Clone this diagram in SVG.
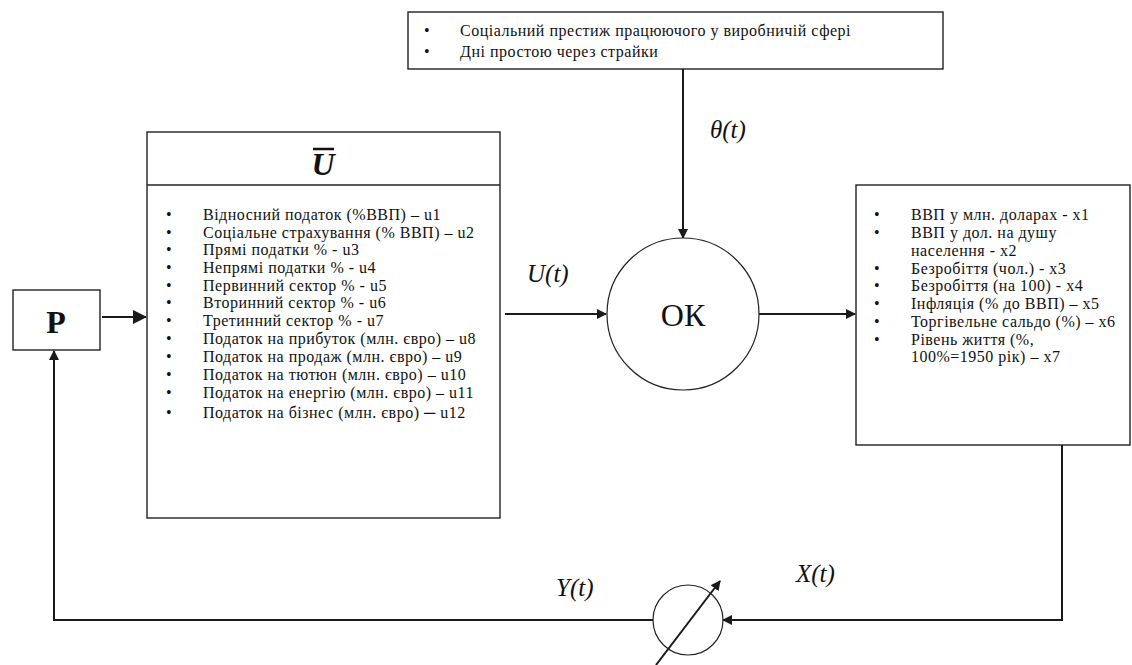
<svg xmlns="http://www.w3.org/2000/svg" width="1132" height="665" viewBox="0 0 1132 665">
<defs>
<style>
.box{fill:#fff;stroke:#222;stroke-width:1.4}
.ln{fill:none;stroke:#1a1a1a;stroke-width:2}
.t{font-family:"Liberation Serif","Times New Roman",serif;font-size:16px;letter-spacing:0.5px;fill:#111}
.m{font-family:"Liberation Serif","Times New Roman",serif;font-style:italic;font-size:25px;fill:#111}
.big{font-family:"Liberation Serif","Times New Roman",serif;fill:#111}
</style>
<marker id="ah" markerWidth="10" markerHeight="10" refX="9" refY="5" orient="auto" markerUnits="userSpaceOnUse" viewBox="0 0 10 10">
<path d="M0,0 L10,5 L0,10 z" fill="#1a1a1a"/>
</marker>
<marker id="ahb" markerWidth="14" markerHeight="14" refX="13" refY="7" orient="auto" markerUnits="userSpaceOnUse" viewBox="0 0 14 14">
<path d="M0,0 L14,7 L0,14 z" fill="#1a1a1a"/>
</marker>
</defs>
<rect width="1132" height="665" fill="#fff"/>

<g id="connectors">
<line class="ln" x1="683" y1="69" x2="683" y2="238" marker-end="url(#ah)"/>
<line class="ln" x1="102" y1="317" x2="146" y2="317" stroke-width="4" marker-end="url(#ahb)"/>
<line class="ln" x1="505" y1="314" x2="606" y2="314" marker-end="url(#ah)"/>
<line class="ln" x1="759" y1="314" x2="855" y2="314" marker-end="url(#ah)"/>
<polyline class="ln" points="1062,445 1062,620 723,620" marker-end="url(#ah)"/>
<polyline class="ln" points="653,620 54,620 54,351" marker-end="url(#ah)"/>
<line class="ln" x1="656" y1="665" x2="720" y2="581" marker-end="url(#ah)"/>
</g>

<g id="labels">
<text class="m" x="710" y="138">θ(t)</text>
<text class="m" x="527" y="282">U(t)</text>
<text class="m" x="556" y="596">Y(t)</text>
<text class="m" x="796" y="582">X(t)</text>
</g>

<g id="node-top">
<rect class="box" x="408" y="12" width="535" height="57"/>
<text class="t" x="424" y="36">•</text><text class="t" x="460" y="36">Соціальний престиж працюючого у виробничій сфері</text>
<text class="t" x="424" y="57">•</text><text class="t" x="460" y="57">Дні простою через страйки</text>
</g>

<g id="node-P">
<rect class="box" x="13" y="290" width="87" height="60"/>
<text class="big" x="56" y="333" text-anchor="middle" font-size="32" font-weight="bold">P</text>
</g>

<g id="node-U">
<rect class="box" x="147" y="132" width="353" height="386"/>
<line class="box" x1="147" y1="185" x2="500" y2="185"/>
<text class="big" x="323" y="175" text-anchor="middle" font-size="32" font-weight="bold" font-style="italic">U</text>
<line x1="313" y1="149" x2="334" y2="149" stroke="#111" stroke-width="2.5"/>
<text class="t" x="166" y="220">•</text><text class="t" x="203" y="220">Відносний податок (%ВВП) – u1</text>
<text class="t" x="166" y="238">•</text><text class="t" x="203" y="238">Соціальне страхування (% ВВП) – u2</text>
<text class="t" x="166" y="255">•</text><text class="t" x="203" y="255">Прямі податки % - u3</text>
<text class="t" x="166" y="273">•</text><text class="t" x="203" y="273">Непрямі податки % - u4</text>
<text class="t" x="166" y="291">•</text><text class="t" x="203" y="291">Первинний сектор % - u5</text>
<text class="t" x="166" y="308">•</text><text class="t" x="203" y="308">Вторинний сектор % - u6</text>
<text class="t" x="166" y="326">•</text><text class="t" x="203" y="326">Третинний сектор % - u7</text>
<text class="t" x="166" y="344">•</text><text class="t" x="203" y="344">Податок на прибуток (млн. євро) – u8</text>
<text class="t" x="166" y="362">•</text><text class="t" x="203" y="362">Податок на продаж (млн. євро) – u9</text>
<text class="t" x="166" y="380">•</text><text class="t" x="203" y="380">Податок на тютюн (млн. євро) – u10</text>
<text class="t" x="166" y="398">•</text><text class="t" x="203" y="398">Податок на енергію (млн. євро) – u11</text>
<text class="t" x="166" y="418">•</text><text class="t" x="203" y="418">Податок на бізнес (млн. євро) ─ u12</text>
</g>

<g id="node-OK">
<circle cx="683" cy="314" r="76" fill="#fff" stroke="#222" stroke-width="1.2"/>
<text class="big" x="683" y="326" text-anchor="middle" font-size="32">ОК</text>
</g>

<g id="node-X">
<rect class="box" x="856" y="185" width="274" height="260"/>
<text class="t" x="874" y="220">•</text><text class="t" x="911" y="220">ВВП у млн. доларах - x1</text>
<text class="t" x="874" y="238">•</text><text class="t" x="911" y="238">ВВП у дол. на душу</text>
<text class="t" x="911" y="256">населення  - x2</text>
<text class="t" x="874" y="274">•</text><text class="t" x="911" y="274">Безробіття (чол.)  - x3</text>
<text class="t" x="874" y="291">•</text><text class="t" x="911" y="291">Безробіття (на 100)  - x4</text>
<text class="t" x="874" y="309">•</text><text class="t" x="911" y="309">Інфляція (% до ВВП) – x5</text>
<text class="t" x="874" y="327">•</text><text class="t" x="911" y="327">Торгівельне сальдо (%) – x6</text>
<text class="t" x="874" y="345">•</text><text class="t" x="911" y="345">Рівень життя (%,</text>
<text class="t" x="911" y="362">100%=1950 рік) – x7</text>
</g>

<g id="node-sensor">
<circle cx="688" cy="620" r="35" fill="none" stroke="#222" stroke-width="1.2"/>
</g>
</svg>
